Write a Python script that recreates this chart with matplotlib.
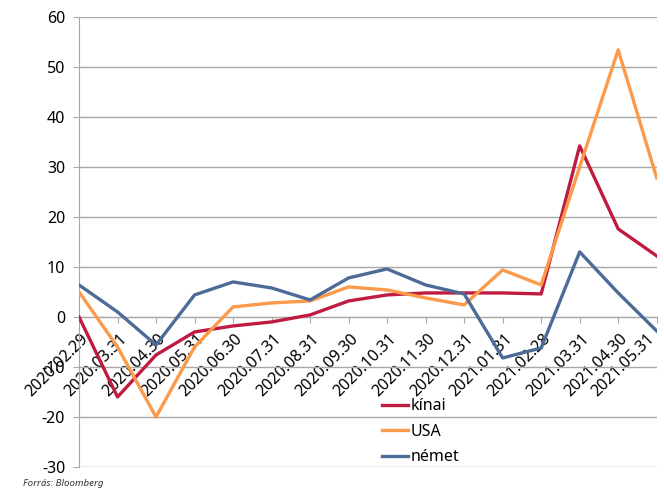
import matplotlib.pyplot as plt
import matplotlib.transforms as mtransforms

dates = ['2020.02.29', '2020.03.31', '2020.04.30', '2020.05.31', '2020.06.30',
         '2020.07.31', '2020.08.31', '2020.09.30', '2020.10.31', '2020.11.30',
         '2020.12.31', '2021.01.31', '2021.02.28', '2021.03.31', '2021.04.30',
         '2021.05.31']
kinai = [0, -16, -7.6, -3, -1.8, -1, 0.4, 3.2, 4.4, 4.8, 4.8, 4.8, 4.6, 34.2, 17.6, 12.2]
usa = [5, -6, -20, -6, 2, 2.8, 3.2, 6, 5.4, 3.8, 2.4, 9.4, 6.4, 30, 53.4, 27.8]
nemet = [6.4, 1, -5.6, 4.4, 7, 5.8, 3.4, 7.8, 9.6, 6.4, 4.6, -8.2, -6.2, 13, 4.8, -2.8]

plt.rcParams['font.family'] = ['Noto Sans', 'DejaVu Sans']
plt.rcParams['axes.unicode_minus'] = False

fig = plt.figure(figsize=(6.64, 4.92), dpi=100)
ax = fig.add_axes([0.119, 0.0508, 0.870, 0.915])

x = list(range(len(dates)))
ax.plot(x, kinai, color='#bf1b40', lw=2.4, label='kínai', zorder=3)
ax.plot(x, usa, color='#fb9a4a', lw=2.4, label='USA', zorder=3)
ax.plot(x, nemet, color='#4c6b97', lw=2.4, label='német', zorder=3)

ax.set_xlim(0, 15)
ax.set_ylim(-30, 60)
ax.set_yticks(range(-30, 61, 10))
ax.yaxis.grid(True, color='#a8a8a8', lw=1)
ax.set_axisbelow(True)

for s in ['top', 'right']:
    ax.spines[s].set_visible(False)
ax.spines['left'].set_color('#a8a8a8')
ax.spines['bottom'].set_color('#a8a8a8')
ax.spines['bottom'].set_position(('data', 0))

ax.set_xticks(x)
ax.set_xticklabels(dates, rotation=45, ha='right', rotation_mode='anchor', fontsize=11.5)
ax.tick_params(axis='x', length=4, color='#a8a8a8', pad=6)
ax.tick_params(axis='y', length=4, color='#a8a8a8', labelsize=11.5, pad=6)

# small nudge of the date labels; the last one is pulled in so it stays on the page
labels = ax.get_xticklabels()
for i, lab in enumerate(labels):
    dx = -10 if i == len(labels) - 1 else 1.5
    shift = mtransforms.ScaledTranslation(dx / 100, 0, fig.dpi_scale_trans)
    lab.set_transform(lab.get_transform() + shift)

ax.legend(loc='upper left', bbox_to_anchor=(0.50, 0.185), frameon=False,
          fontsize=11.5, handlelength=1.6, handletextpad=0.2, labelspacing=0.6)

fig.text(0.035, 0.012, 'Forrás: Bloomberg', fontsize=7, style='italic', color='#333333')

fig.savefig('out.png', dpi=100)
